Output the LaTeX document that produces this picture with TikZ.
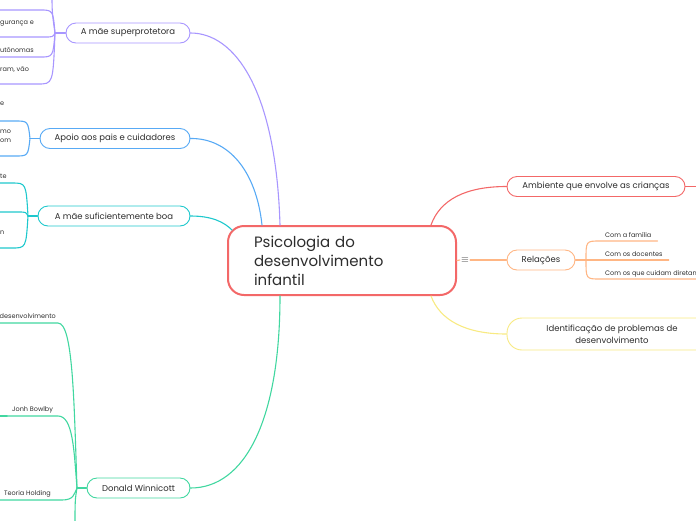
\documentclass[tikz,border=0pt]{standalone}
\usepackage{fontspec}
\setmainfont{Poppins}
\usepackage{tikz}
\usetikzlibrary{calc}
\usepackage{xcolor}
\definecolor{textocinza}{RGB}{45,45,45}
\definecolor{vermelho}{RGB}{243,104,104}
\definecolor{laranja}{RGB}{255,182,132}
\definecolor{amarelo}{RGB}{248,234,130}
\definecolor{roxo}{RGB}{168,150,255}
\definecolor{azul}{RGB}{88,170,245}
\definecolor{turquesa}{RGB}{30,200,205}
\definecolor{verde}{RGB}{65,215,160}
\tikzset{
    central/.style={draw=vermelho, fill=white, line width=2pt, rounded corners=16pt,
        minimum width=228pt, minimum height=69pt, text width=176pt, inner xsep=26pt,
        align=left, text=textocinza, font=\fontsize{15}{19}\selectfont},
    topico/.style={draw=#1, fill=white, line width=0.9pt, rounded corners=10pt,
        minimum height=20pt, inner sep=0pt, text=textocinza, font=\fontsize{8.5}{12}\selectfont},
    ramo/.style={draw=#1, line width=1.1pt, line cap=round},
    folha/.style={inner sep=0pt, text=textocinza, font=\fontsize{6.5}{9}\selectfont}
}

\begin{document}
\begin{tikzpicture}[x=1pt, y=-1pt]
    \useasboundingbox (0,0) rectangle (696,520);
    \clip (0,0) rectangle (696,520);
    % No central
    \node[central] (psico) at (342,260.5) {Psicologia do\\desenvolvimento\\infantil};
    \node[inner sep=1pt, text=textocinza, font=\normalsize] (menu) at (465,260) {$\equiv$};
    % Topicos a direita
    \node[topico=vermelho, minimum width=178pt] (ambiente) at (596,186.5) {Ambiente que envolve as crianças};
    \node[topico=laranja, minimum width=68pt] (relacoes) at (541,260) {Relações};
    \node[topico=amarelo, minimum width=210pt, minimum height=32pt, rounded corners=15pt, align=center]
        (identif) at (612,334) {Identificação de problemas de\\desenvolvimento};
    % Topicos a esquerda
    \node[topico=roxo, minimum width=124pt] (superprot) at (128,33) {A mãe superprotetora};
    \node[topico=azul, minimum width=150pt] (apoio) at (115,138.5) {Apoio aos pais e cuidadores};
    \node[topico=turquesa, minimum width=152pt] (suficiente) at (114,216) {A mãe suficientemente boa};
    \node[topico=verde, minimum width=103pt] (winnicott) at (138.5,488) {Donald Winnicott};
    % Ligacoes ao no central
    \draw[ramo=roxo] (superprot.east) .. controls (235,33) and (276,90) .. ($(psico.north)+(-62,0)$);
    \draw[ramo=azul] (apoio.east) .. controls (228,138) and (256,170) .. ($(psico.north)+(-80,0)$);
    \draw[ramo=turquesa] (suficiente.east) .. controls (212,216) and (224,222) .. ($(psico.north west)+(5,5)$);
    \draw[ramo=verde] (winnicott.east) .. controls (245,488) and (280,420) .. ($(psico.south)+(-62,0)$);
    \draw[ramo=vermelho] ($(psico.north east)+(-26,0)$) .. controls (440,200) and (465,186.5) .. (ambiente.west);
    \draw[ramo=amarelo] ($(psico.south east)+(-26,0)$) .. controls (440,320) and (465,334) .. (identif.west);
    \draw[ramo=laranja] (psico.east) -- (menu.west);
    \draw[ramo=laranja] (menu.east) -- (relacoes.west);
    \draw[ramo=vermelho] (ambiente.east) -- ++(20,0);
    % Relacoes
    \coordinate (jrel) at (586,260);
    \node[folha, anchor=base west] (familia) at (605,237) {Com a família};
    \node[folha, anchor=base west] (docentes) at (605,256) {Com os docentes};
    \node[folha, anchor=base west] (cuidam) at (605,275) {Com os que cuidam diretam};
    \draw[ramo=laranja] (relacoes.east) -- (jrel);
    \draw[ramo=laranja] (jrel) .. controls (586,241) .. ($(familia.base west)+(-5,4)$) -- ($(familia.base east)+(6,4)$);
    \draw[ramo=laranja] (jrel) -- ($(docentes.base east)+(6,4)$);
    \draw[ramo=laranja] (jrel) .. controls (586,279) .. ($(cuidam.base west)+(-5,4)$) -- ($(cuidam.base east)+(20,4)$);
    % A mae superprotetora
    \coordinate (jsup) at (55,33);
    \draw[ramo=roxo] (superprot.west) -- (jsup);
    \draw[ramo=roxo] (jsup) .. controls (53,10) .. (40,10) -- (-5,10);
    \draw[ramo=roxo] (jsup) .. controls (53,37) .. (44,37) -- (-5,37);
    \draw[ramo=roxo] (jsup) .. controls (53,57) .. (40,57) -- (-5,57);
    \draw[ramo=roxo] (jsup) .. controls (53,84) .. (38,84) -- (-5,84);
    \draw[ramo=roxo] (jsup) .. controls (52,12) .. (52,-10);
    \node[folha, anchor=base west] (seguranca) at (0,24.5) {gurança e};
    \node[folha, anchor=base west] (autonomas) at (0,52.5) {utônomas};
    \node[folha, anchor=base west] (vao) at (0,71.5) {ram, vão};
    % Apoio aos pais
    \coordinate (japo) at (30,138.5);
    \draw[ramo=azul] (apoio.west) -- (japo);
    \draw[ramo=azul] (japo) .. controls (28,121) .. (15,121) -- (-5,121);
    \draw[ramo=azul] (japo) .. controls (28,156) .. (15,156) -- (-5,156);
    \node[folha, anchor=base west] (apoio1) at (0,105) {e};
    \node[folha, anchor=west, align=left] (apoio2) at (0,136.5) {mo\\om};
    % A mae suficientemente boa
    \coordinate (jsuf) at (28,216);
    \draw[ramo=turquesa] (suficiente.west) -- (jsuf);
    \draw[ramo=turquesa] (jsuf) .. controls (26,183) .. (12,183) -- (-5,183);
    \draw[ramo=turquesa] (jsuf) .. controls (26,212) .. (18,212) -- (-5,212);
    \draw[ramo=turquesa] (jsuf) .. controls (26,248) .. (12,248) -- (-5,248);
    \node[folha, anchor=base west] (suf1) at (0,178) {te};
    \node[folha, anchor=base west] (suf2) at (0,234) {n};
    % Donald Winnicott
    \coordinate (jwin) at (77,488);
    \draw[ramo=verde] (winnicott.west) -- (jwin);
    \draw[ramo=verde] (jwin) .. controls (74,400) and (73,323) .. (58,323) -- (-5,323);
    \draw[ramo=verde] (jwin) .. controls (74,450) and (73,416) .. (58,416) -- (-5,416);
    \draw[ramo=verde] (jwin) .. controls (74,494) and (74,500) .. (62,500) -- (-5,500);
    \draw[ramo=verde] (jwin) .. controls (75,500) .. (75,530);
    \draw[ramo=verde, line width=1.8pt] (-5,416) -- (7,416);
    \node[folha, anchor=base east] (desenv) at (56,318) {desenvolvimento};
    \node[folha, anchor=base west] (bowlby) at (12,411) {Jonh Bowlby};
    \node[folha, anchor=base west] (holding) at (4,495) {Teoria Holding};
\end{tikzpicture}
\end{document}
